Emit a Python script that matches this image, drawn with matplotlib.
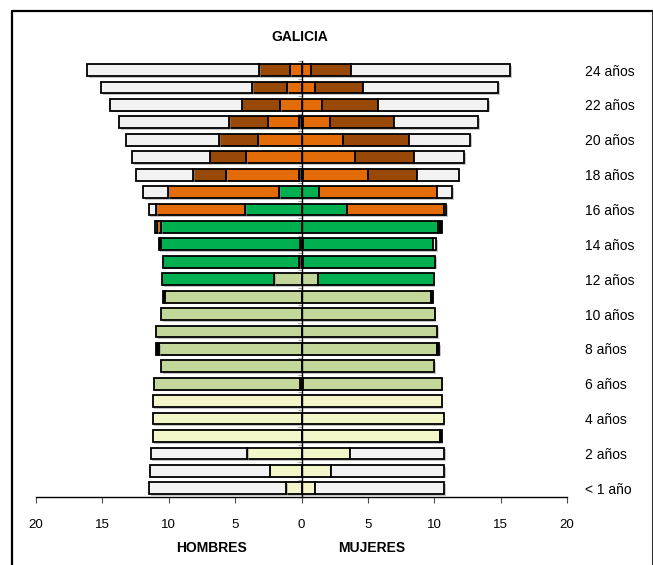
import matplotlib
matplotlib.use("Agg")
import matplotlib.pyplot as plt
import matplotlib.patheffects as pe
from matplotlib.lines import Line2D
import numpy as np

plt.rcParams['font.family'] = ['Liberation Sans', 'DejaVu Sans']

ages = list(range(25))
age_labels = {0: "< 1 año", 2: "2 años", 4: "4 años", 6: "6 años", 8: "8 años",
              10: "10 años", 12: "12 años", 14: "14 años", 16: "16 años",
              18: "18 años", 20: "20 años", 22: "22 años", 24: "24 años"}

# Categories stacked from centre outwards
categories = ["esp", "infantil", "primaria", "eso", "postobl", "univ", "otros", "noestudia"]
colors = {"esp": "#000000", "infantil": "#F3F6C8", "primaria": "#C4D79B",
          "eso": "#00B050", "postobl": "#E36C09", "univ": "#984807",
          "otros": "#000000", "noestudia": "#F2F2F2"}

# HOMBRES (ages 0..24)
h_esp      = [0, 0, 0, 0, 0, 0, 0.1, 0, 0, 0, 0, 0, 0, 0.17, 0.1, 0, 0, 0, 0.17, 0, 0, 0.17, 0, 0, 0]
h_infantil = [1.13, 2.41, 4.07, 11.2, 11.2, 11.2, 0, 0, 0, 0, 0, 0, 0, 0, 0, 0, 0, 0, 0, 0, 0, 0, 0, 0, 0]
h_primaria = [0, 0, 0, 0, 0, 0, 11.0, 10.59, 10.7, 10.95, 10.55, 10.32, 2.08, 0, 0, 0, 0, 0, 0, 0, 0, 0, 0, 0, 0]
h_eso      = [0, 0, 0, 0, 0, 0, 0, 0, 0, 0, 0, 0, 8.41, 10.24, 10.5, 10.59, 4.24, 1.66, 0, 0, 0, 0, 0, 0, 0]
h_postobl  = [0, 0, 0, 0, 0, 0, 0, 0, 0, 0, 0, 0, 0, 0, 0, 0.3, 6.73, 8.36, 5.48, 4.17, 3.24, 2.39, 1.60, 1.10, 0.83]
h_univ     = [0, 0, 0, 0, 0, 0, 0, 0, 0, 0, 0, 0, 0, 0, 0, 0, 0, 0, 2.49, 2.76, 2.96, 2.91, 2.91, 2.61, 2.34]
h_otros    = [0, 0, 0, 0, 0, 0, 0, 0, 0.23, 0, 0, 0.12, 0, 0, 0.15, 0, 0, 0, 0, 0, 0, 0, 0, 0, 0]
h_noest    = [10.36, 9.0, 7.28, 0, 0, 0, 0, 0, 0, 0, 0, 0, 0, 0, 0, 0.18, 0.55, 1.93, 4.29, 5.83, 7.03, 8.26, 9.89, 11.4, 12.96]

# MUJERES (ages 0..24)
m_esp      = [0, 0, 0, 0, 0, 0, 0.1, 0, 0, 0, 0, 0, 0, 0.1, 0.1, 0, 0, 0, 0.15, 0, 0, 0.1, 0, 0, 0]
m_infantil = [0.98, 2.21, 3.69, 10.42, 10.7, 10.55, 0, 0, 0, 0, 0, 0, 0, 0, 0, 0, 0, 0, 0, 0, 0, 0, 0, 0, 0]
m_primaria = [0, 0, 0, 0, 0, 0, 10.45, 10.0, 10.2, 10.22, 10.02, 9.79, 1.26, 0, 0, 0, 0, 0, 0, 0, 0, 0, 0, 0, 0]
m_eso      = [0, 0, 0, 0, 0, 0, 0, 0, 0, 0, 0, 0, 8.69, 9.95, 9.84, 10.27, 3.42, 1.31, 0, 0, 0, 0, 0, 0, 0]
m_postobl  = [0, 0, 0, 0, 0, 0, 0, 0, 0, 0, 0, 0, 0, 0, 0, 0, 7.33, 8.91, 4.87, 4.05, 3.09, 2.08, 1.51, 1.05, 0.75]
m_univ     = [0, 0, 0, 0, 0, 0, 0, 0, 0, 0, 0, 0, 0, 0, 0, 0, 0, 0, 3.71, 4.39, 5.0, 4.77, 4.29, 3.62, 2.97]
m_otros    = [0, 0, 0, 0.15, 0, 0, 0, 0, 0.15, 0, 0, 0.1, 0, 0, 0, 0.3, 0, 0, 0, 0, 0, 0, 0, 0, 0]
m_noest    = [9.77, 8.54, 7.06, 0, 0, 0, 0, 0, 0, 0, 0, 0, 0, 0, 0.2, 0, 0.17, 1.13, 3.12, 3.82, 4.64, 6.38, 8.24, 10.12, 12.0]

hombres = dict(zip(categories, [h_esp, h_infantil, h_primaria, h_eso, h_postobl, h_univ, h_otros, h_noest]))
mujeres = dict(zip(categories, [m_esp, m_infantil, m_primaria, m_eso, m_postobl, m_univ, m_otros, m_noest]))

fig = plt.figure(figsize=(6.53, 5.65), dpi=100)
ax = fig.add_axes([36/653, 1 - 497/565, 531/653, (497 - 61.3)/565])

y = np.array(ages)
shadow = [pe.SimplePatchShadow(offset=(1.2, -1.2), shadow_rgbFace='0.55', alpha=0.5), pe.Normal()]

for side, data in ((-1, hombres), (1, mujeres)):
    left = np.zeros(len(ages))
    for cat in categories:
        vals = np.array(data[cat], dtype=float)
        mask = vals > 0
        bars = ax.barh(y[mask], side * vals[mask], left=side * left[mask], height=0.68,
                       color=colors[cat], edgecolor='black', linewidth=1.3, zorder=2)
        for b in bars:
            b.set_path_effects(shadow)
        left = left + vals

ax.set_xlim(-20, 20)
ax.set_ylim(-0.5, 24.5)

# spines
for s in ("top", "right"):
    ax.spines[s].set_visible(False)
ax.spines["left"].set_position(("data", 0))
ax.spines["left"].set_linewidth(1.0)
ax.spines["left"].set_zorder(3)
ax.spines["bottom"].set_linewidth(1.0)

# x ticks
xt = np.arange(-20, 21, 5)
ax.set_xticks(xt)
ax.set_xticklabels([str(abs(v)) for v in xt], fontsize=9.5)
ax.tick_params(axis='x', direction='out', length=4, width=0.8, color='0.3', pad=12)

# y ticks: labels on the right, small gray dashes at the centre line
label_rows = sorted(age_labels)
ax.set_yticks(label_rows)
ax.set_yticklabels([age_labels[r] for r in label_rows], fontsize=10)
ax.set_yticks(np.arange(-0.5, 25, 1), minor=True)
ax.tick_params(axis='y', which='major', left=False, labelleft=False,
               right=False, labelright=True, pad=9.5)
ax.tick_params(axis='y', which='minor', left=True, length=3, width=0.8,
               color='0.65', direction='out')

fig.text(300/653, 1 - 37/565, "GALICIA", ha='center', va='center',
         fontsize=10, fontweight='bold')
fig.text(211.5/653, 1 - 548/565, "HOMBRES", ha='center', va='center',
         fontsize=10, fontweight='bold')
fig.text(371.5/653, 1 - 548/565, "MUJERES", ha='center', va='center',
         fontsize=10, fontweight='bold')

# outer frame (open at the bottom)
fx0, fx1, fy1 = 12.5/653, 651.5/653, 1 - 10.5/565
fig.add_artist(Line2D([fx0, fx0, fx1], [0, fy1, fy1], transform=fig.transFigure,
                      color='black', linewidth=1.6))
fig.add_artist(Line2D([fx1, fx1], [fy1, 0], transform=fig.transFigure,
                      color='0.2', linewidth=0.8))

fig.savefig("out.png", dpi=100)
